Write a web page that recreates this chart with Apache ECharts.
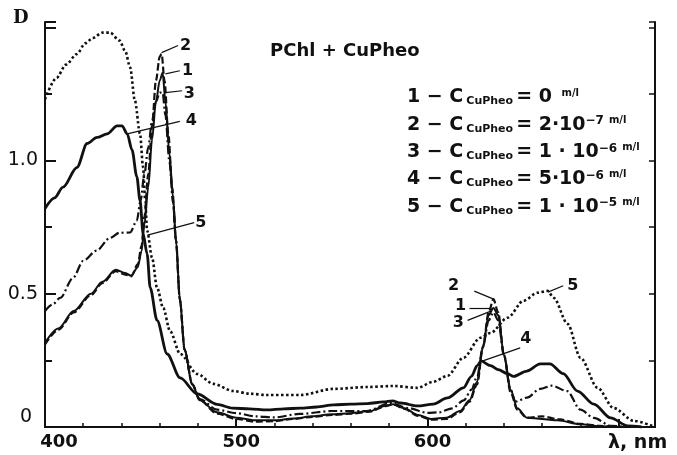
<!DOCTYPE html>
<html><head><meta charset="utf-8">
<script src="https://cdn.jsdelivr.net/npm/echarts@6/dist/echarts.min.js"></script>
<style>html,body{margin:0;padding:0;background:#fff}#c{width:677px;height:455px}</style>
</head><body><div id="c"></div>
<script>
// ---- data: [wavelength nm, optical density D] ----
const curve1 = [[400,0.316],[407,0.37],[415,0.435],[424,0.50],[430,0.545],[437,0.59],[442,0.578],[445,0.568],[448.5,0.60],[450.5,0.66],[452,0.76],[454,0.90],[456,1.08],[458,1.22],[460,1.30],[461.5,1.33],[463,1.22],[465,1.03],[467,0.86],[468.5,0.70],[470.5,0.48],[473,0.29],[477,0.16],[481,0.10],[490,0.055],[500,0.035],[510,0.025],[520,0.025],[530,0.032],[540,0.04],[550,0.048],[560,0.052],[570,0.06],[578,0.08],[582,0.085],[588,0.07],[595,0.045],[602,0.03],[610,0.035],[617,0.06],[622,0.10],[626,0.17],[629,0.30],[632,0.42],[634.5,0.447],[637,0.42],[640,0.27],[643.5,0.14],[647,0.07],[652,0.035],[660,0.03],[668,0.025],[680,0.01],[690,0.003],[700,0]];
const curve2 = [[400,0.31],[407,0.365],[415,0.43],[424,0.495],[430,0.54],[437,0.585],[442,0.572],[445,0.565],[448.5,0.61],[450.5,0.68],[452,0.79],[454,0.95],[456,1.13],[458,1.30],[460,1.39],[461,1.40],[462.5,1.30],[464.5,1.10],[466.5,0.90],[468.5,0.70],[470.5,0.48],[473,0.29],[477,0.16],[481,0.10],[490,0.05],[500,0.03],[510,0.02],[520,0.022],[530,0.03],[540,0.038],[550,0.045],[560,0.05],[570,0.058],[578,0.078],[582,0.085],[588,0.068],[595,0.042],[602,0.028],[610,0.03],[617,0.055],[622,0.095],[626,0.16],[629,0.30],[632,0.43],[634.5,0.48],[637,0.43],[640,0.27],[643.5,0.13],[647,0.065],[652,0.035],[660,0.04],[668,0.03],[680,0.012],[690,0.004],[700,0]];
const curve3 = [[400,0.435],[404,0.46],[408,0.485],[414.7,0.56],[420,0.624],[427,0.662],[434,0.71],[439,0.729],[444.5,0.73],[448,0.774],[450,0.85],[452,0.95],[454,1.05],[456,1.15],[458,1.22],[460,1.255],[461.5,1.255],[463,1.17],[465,1.00],[467,0.84],[468.5,0.70],[470.5,0.48],[473,0.29],[477,0.16],[481,0.105],[490,0.065],[500,0.052],[510,0.04],[520,0.036],[533,0.049],[550,0.06],[568,0.06],[580.6,0.09],[590,0.071],[600,0.053],[606,0.055],[613,0.07],[619,0.10],[623,0.14],[626,0.19],[629,0.30],[632,0.40],[634.5,0.43],[637,0.40],[640,0.27],[643.5,0.14],[646,0.095],[652,0.11],[659,0.143],[665,0.155],[673,0.135],[680,0.065],[687,0.034],[696,0.004],[705,0]];
const curve4 = [[400,0.82],[405,0.86],[409.4,0.90],[416.7,0.974],[422,1.064],[427.2,1.087],[432.5,1.10],[437.7,1.13],[440.3,1.13],[443,1.10],[445.5,1.04],[448,0.94],[449.7,0.85],[451.3,0.726],[453.4,0.65],[455,0.523],[458.6,0.40],[463.9,0.274],[470.7,0.184],[479.6,0.124],[490,0.085],[498,0.071],[507,0.068],[516,0.064],[525,0.068],[533.5,0.071],[542,0.075],[551,0.083],[560,0.086],[568.6,0.088],[577,0.094],[581.7,0.098],[586,0.09],[594.8,0.079],[603,0.086],[610.5,0.109],[618.8,0.147],[623,0.19],[626,0.23],[628,0.248],[633,0.23],[637,0.215],[642,0.2],[645,0.19],[652,0.21],[659,0.237],[664,0.237],[671,0.2],[678.5,0.135],[687,0.086],[695.8,0.034],[704.7,0.004],[712,0]];
const curve5 = [[400,1.23],[406,1.31],[411,1.36],[416.7,1.40],[421,1.44],[425,1.46],[430,1.48],[434,1.48],[439,1.45],[442,1.41],[444.5,1.35],[447,1.225],[449.7,1.10],[451.3,0.974],[452.4,0.85],[453.4,0.737],[456,0.635],[458.6,0.523],[461.8,0.447],[465.4,0.36],[470.7,0.274],[479.6,0.199],[488,0.162],[498.4,0.135],[507,0.125],[516,0.12],[533.5,0.12],[550.8,0.143],[568.6,0.15],[582,0.154],[594.8,0.147],[603,0.17],[610.5,0.192],[618.8,0.26],[627.7,0.335],[633,0.353],[641.9,0.41],[650.3,0.474],[657.6,0.504],[662.8,0.511],[666,0.485],[673.3,0.387],[680,0.26],[689,0.147],[697.4,0.071],[707.9,0.023],[718,0.003]];

const xTickLabels = [400, 500, 600];
const yTickLabels = {'0':'0', '0.5':'0.5', '1':'1.0'};
const curveNames = ['1','2','3','4','5'];
const concentrations = ['0 ', '2·10{p|−7}', '1 · 10{p|−6}', '5·10{p|−6}', '1 · 10{p|−5}'];
const chartTitle = 'PChl + CuPheo';
const yName = 'D';
const xName = 'λ, nm';
// curve number annotations: [λ, D, text]
const annoLabels = [[473.5,1.43,'2'],[474.5,1.338,'1'],[475.5,1.252,'3'],[476.5,1.15,'4'],[481.5,0.765,'5'],[613.6,0.53,'2'],[617.3,0.455,'1'],[616.2,0.391,'3'],[651.5,0.331,'4'],[676,0.53,'5']];
const annoLeaders = [[[461,1.405],[469.6,1.432]],[[463,1.325],[470.5,1.337]],[[463,1.255],[471.7,1.262]],[[443,1.10],[470.5,1.147]],[[453.6,0.72],[478,0.767]],[[624.5,0.51],[634.6,0.48]],[[622,0.447],[633.5,0.447]],[[621,0.40],[633.5,0.436]],[[629,0.248],[648.5,0.297]],[[663,0.506],[671,0.53]]];

const INK = '#111';
const FONT = "'DejaVu Sans', sans-serif";
const chart = echarts.init(document.getElementById('c'), null, {renderer:'canvas'});

const styles = [
  {width:2, type:'solid'},
  {width:2.2, type:[7,3]},
  {width:2.2, type:[9,3,2,3]},
  {width:2.8, type:'solid'},
  {width:2.6, type:[2.5,2.5]}
];
const curves = [curve1, curve2, curve3, curve4, curve5];
const series = curves.map((d,i)=>({
  name: curveNames[i], type:'line', data:d, showSymbol:false, symbol:'none',
  smooth:0.3, smoothMonotone:'x', silent:true, z: 3,
  lineStyle:{color:INK, width:styles[i].width, type:styles[i].type, cap:'butt'}
}));
series.push({
  type:'line', data:[], silent:true,
  markLine:{silent:true, symbol:['none','none'], label:{show:false},
    lineStyle:{color:INK, width:1.2, type:'solid'}, animation:false,
    data: annoLeaders.map(p=>[{coord:p[0]},{coord:p[1]}])}
});
series.push({
  type:'scatter', data:annoLabels, symbolSize:0, silent:true,
  itemStyle:{opacity:1, color:INK},
  label:{show:true, position:'inside', formatter:p=>p.value[2], color:INK, opacity:1,
    fontFamily:FONT, fontWeight:'bold', fontSize:16}
});

const legendGraphics = concentrations.map((c,i)=>({
  type:'text', left:407, top: 88 + i*27.3,
  style:{
    text: curveNames[i] + ' − C{s|CuPheo}= ' + c + '{u|m/l}',
    font: "bold 19px " + FONT, fill: INK,
    rich:{
      s:{fontSize:11, fontWeight:'bold', fontFamily:FONT, verticalAlign:'bottom', padding:[0,3,0,3], lineHeight:14},
      p:{fontSize:12, fontWeight:'bold', fontFamily:FONT, verticalAlign:'top', lineHeight:12, padding:[0,2,0,0]},
      u:{fontSize:10, fontWeight:'bold', fontFamily:FONT, verticalAlign:'top', lineHeight:14, padding:[0,0,0,3]}
    }
  }
}));

chart.setOption({
  animation:false,
  backgroundColor:'#fff',
  grid:{left:45, right:22, top:22, bottom:28},
  xAxis:[{
    type:'value', min:400, max:719, interval:100, position:'bottom',
    axisLine:{show:true, lineStyle:{color:INK, width:2}},
    axisTick:{show:true, inside:true, length:8, lineStyle:{color:INK, width:2}},
    minorTick:{show:true, splitNumber:5, length:4, lineStyle:{color:INK, width:1.5}},
    splitLine:{show:false},
    axisLabel:{color:INK, fontFamily:FONT, fontWeight:'bold', fontSize:18, margin:6,
      formatter:v=> xTickLabels.includes(v) ? (v===400 ? '{a|'+v+'}' : '{b|'+v+'}') : '',
      rich:{a:{padding:[0,0,0,28], fontFamily:FONT, fontWeight:'bold', fontSize:18, color:INK},
            b:{padding:[0,0,0,10], fontFamily:FONT, fontWeight:'bold', fontSize:18, color:INK}}}
  },{
    type:'value', min:400, max:719, position:'top',
    axisLine:{show:true, lineStyle:{color:INK, width:2}},
    axisTick:{show:false}, axisLabel:{show:false}, splitLine:{show:false}
  }],
  yAxis:[{
    type:'value', min:0, max:1.52, interval:0.5, position:'left',
    axisLine:{show:true, lineStyle:{color:INK, width:2}},
    axisTick:{show:true, inside:true, length:11, lineStyle:{color:INK, width:2}},
    minorTick:{show:true, splitNumber:2, length:7, lineStyle:{color:INK, width:2}},
    splitLine:{show:false},
    axisLabel:{color:INK, fontFamily:FONT, fontSize:19, margin:7,
      formatter:v=>{const k=String(+v.toFixed(2)); if(!(k in yTickLabels)) return ''; return k==='0' ? '{z|0}' : yTickLabels[k];},
      rich:{z:{padding:[0,6,20,0], fontFamily:FONT, fontSize:19, color:INK}}}
  },{
    type:'value', min:0, max:1.52, interval:0.25, position:'right',
    axisLine:{show:true, lineStyle:{color:INK, width:2}},
    axisTick:{show:true, inside:true, length:6, lineStyle:{color:INK, width:1.5}},
    axisLabel:{show:false}, splitLine:{show:false}
  }],
  graphic:[
    {type:'text', left:13, top:9, style:{text:yName, font:"bold 18px 'DejaVu Serif', serif", fill:INK}},
    {type:'text', left:270, top:42, style:{text:chartTitle, font:"bold 18px " + FONT, fill:INK}},
    {type:'text', left:608, top:434, style:{text:xName, font:"bold 19px " + FONT, fill:INK}}
  ].concat(legendGraphics),
  series: series
});
</script>
</body></html>
